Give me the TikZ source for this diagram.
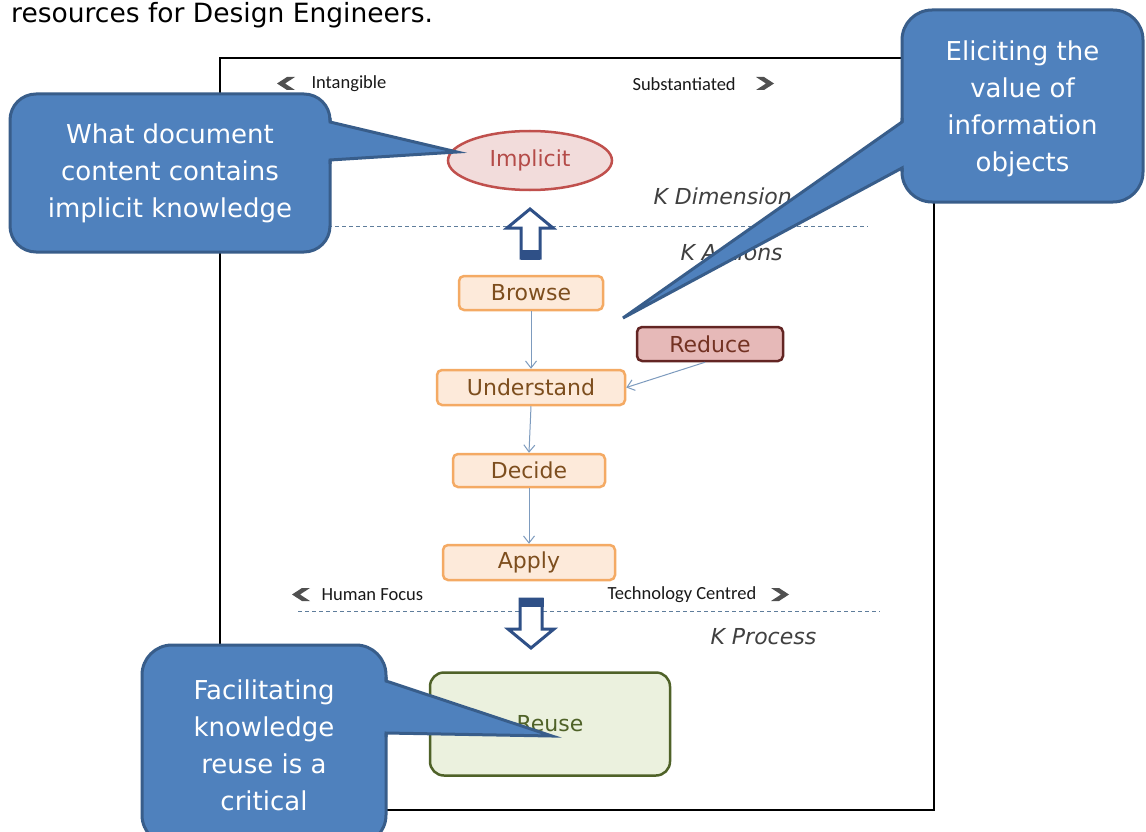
\documentclass[tikz,border=0pt]{standalone}
\usepackage{fontspec}
\setmainfont{DejaVu Sans}
\newfontfamily\calfont{Carlito}
\usetikzlibrary{arrows.meta,shapes.geometric}

\definecolor{boxline}{RGB}{244,170,100}
\definecolor{boxfill}{RGB}{253,234,218}
\definecolor{boxtext}{RGB}{125,78,30}
\definecolor{implline}{RGB}{192,80,77}
\definecolor{implfill}{RGB}{242,220,219}
\definecolor{impltext}{RGB}{180,75,72}
\definecolor{redline}{RGB}{99,37,35}
\definecolor{redfill}{RGB}{230,185,184}
\definecolor{redtext}{RGB}{115,50,35}
\definecolor{greenline}{RGB}{79,98,40}
\definecolor{greenfill}{RGB}{235,241,222}
\definecolor{flowline}{RGB}{125,155,190}
\definecolor{sepline}{RGB}{95,125,155}
\definecolor{arrowblue}{RGB}{47,80,135}
\definecolor{calfill}{RGB}{79,129,189}
\definecolor{calline}{RGB}{56,93,138}
\definecolor{kgray}{RGB}{64,64,64}
\definecolor{axtext}{RGB}{25,25,25}
\definecolor{chevcol}{RGB}{80,80,80}

% filled chevrons pointing left / right, given by their centre
\newcommand\chevleft[2]{\fill[chevcol] (#1,#2) ++(9,-6.5) -- ++(-8,0) -- ++(-10,6.5) -- ++(10,6.5) -- ++(8,0) -- ++(-10,-6.5) -- cycle;}
\newcommand\chevright[2]{\fill[chevcol] (#1,#2) ++(-9,-6.5) -- ++(8,0) -- ++(10,6.5) -- ++(-10,6.5) -- ++(-8,0) -- ++(10,-6.5) -- cycle;}

\begin{document}
\begin{tikzpicture}[x=1pt,y=-1pt,
  stepbox/.style={draw=boxline, fill=boxfill, line width=2.5pt, rounded corners=5pt,
    text=boxtext, font=\fontsize{22}{26}\selectfont, inner sep=0pt},
  flow/.style={draw=flowline, line width=1pt, -{Straight Barb[length=7pt,width=11pt]}},
  sepdash/.style={draw=sepline, line width=0.9pt, dash pattern=on 4pt off 3pt},
  blockarrow/.style={draw=arrowblue, fill=white, line width=3pt, line join=miter},
  callout/.style={fill=calfill, draw=calline, line width=3pt, rounded corners=26pt,
    text=white, align=center, font=\fontsize{26}{37}\selectfont, inner sep=0pt},
  pointer/.style={draw=calline, line width=3pt, line join=miter},
  klabel/.style={anchor=west, text=kgray, font=\fontsize{22}{26}\selectfont\itshape},
  axislabel/.style={anchor=west, text=axtext, font=\calfont\fontsize{18.5}{22}\selectfont},
]
\useasboundingbox (0,0) rectangle (1146,832);
\clip (0,0) rectangle (1146,832);
\fill[white] (0,0) rectangle (1146,832);

% caption line above the figure
\node[anchor=base west, inner sep=0pt, font=\fontsize{26.5}{30}\selectfont] (caption) at (11,23) {resources for Design Engineers.};

% frame
\draw[black, line width=1.5pt] (220,58) rectangle (934,810);

% separators
\draw[sepdash] (300,226) -- (868,226);
\draw[sepdash] (298,611) -- (880,611);

% axis labels
\chevleft{286}{83.5}
\node[axislabel] (intangible) at (308,84) {Intangible};
\node[axislabel] (substantiated) at (629,84) {Substantiated};
\chevright{765}{83.5}
\chevleft{301}{594.5}
\node[axislabel] (human) at (318,595) {Human Focus};
\node[axislabel] (technology) at (604,595) {Technology Centred};
\chevright{780}{594.5}

% layer labels
\node[klabel] (kdim) at (650,196) {K Dimension};
\node[klabel] (kact) at (677,252) {K Actions};
\node[klabel] (kproc) at (707,637) {K Process};

% block arrows
\draw[blockarrow] (530,209) -- (553,228) -- (540,228) -- (540,258) -- (521,258) -- (521,228) -- (507,228) -- cycle;
\fill[arrowblue] (521,250) rectangle (540,259.5);
\draw[blockarrow] (520,599) -- (542,599) -- (542,629) -- (554,629) -- (531,648) -- (508,629) -- (520,629) -- cycle;
\fill[arrowblue] (518.5,597.5) rectangle (543.5,607);

% nodes
\node[ellipse, draw=implline, fill=implfill, line width=2.5pt, text=impltext,
  minimum width=164pt, minimum height=59pt, inner sep=0pt,
  font=\fontsize{22}{26}\selectfont] (implicit) at (530,160.5) {Implicit};
\node[stepbox, minimum width=144pt, minimum height=34pt] (browse) at (531,293) {Browse};
\node[stepbox, minimum width=188pt, minimum height=35pt] (understand) at (531,387.5) {Understand};
\node[stepbox, minimum width=152pt, minimum height=33pt] (decide) at (529,470.5) {Decide};
\node[stepbox, minimum width=172pt, minimum height=35pt] (apply) at (529,562.5) {Apply};
\node[stepbox, draw=redline, fill=redfill, text=redtext,
  minimum width=146pt, minimum height=34pt] (reduce) at (710,344) {Reduce};
\node[draw=greenline, fill=greenfill, line width=2.5pt, rounded corners=14pt,
  text=greenline, minimum width=240pt, minimum height=103pt, inner sep=0pt,
  font=\fontsize{22}{26}\selectfont] (reuse) at (550,724) {Reuse};

% flow connectors
\draw[flow] (browse.south) -- (understand.north);
\draw[flow] (understand.south) -- (decide.north);
\draw[flow] (decide.south) -- (apply.north);
\draw[flow] ([xshift=-5pt]reduce.south) -- (understand.east);

% callout: implicit knowledge
\node[callout, minimum width=320pt, minimum height=158pt] (c1) at (170,173) {What document\\content contains\\implicit knowledge};
\coordinate (t1) at (457,152);
\fill[calfill] (325,122) -- (330,122) -- (t1) -- (330,160) -- (325,160) -- cycle;
\draw[pointer] (330,118) -- (330,122) -- (t1) -- (330,160) -- (330,164);

% callout: value of information objects
\node[callout, minimum width=241pt, minimum height=192pt, rounded corners=30pt, text depth=0pt] (c2) at (1022.5,106) {Eliciting the\\value of\\information\\objects};
\coordinate (t2) at (623,318);
\fill[calfill] (907,122) -- (902,122) -- (t2) -- (902,168) -- (907,168) -- cycle;
\draw[pointer] (902,118) -- (902,122) -- (t2) -- (902,168) -- (902,172);

% callout: knowledge reuse
\node[callout, minimum width=244pt, minimum height=200pt, rounded corners=30pt, text depth=0pt] (c3) at (264,745) {Facilitating\\knowledge\\reuse is a\\critical};
\coordinate (t3) at (552,736);
\fill[calfill] (381,681) -- (386,681) -- (t3) -- (386,733) -- (381,733) -- cycle;
\draw[pointer] (386,677) -- (386,681) -- (t3) -- (386,733) -- (386,737);
\end{tikzpicture}
\end{document}
